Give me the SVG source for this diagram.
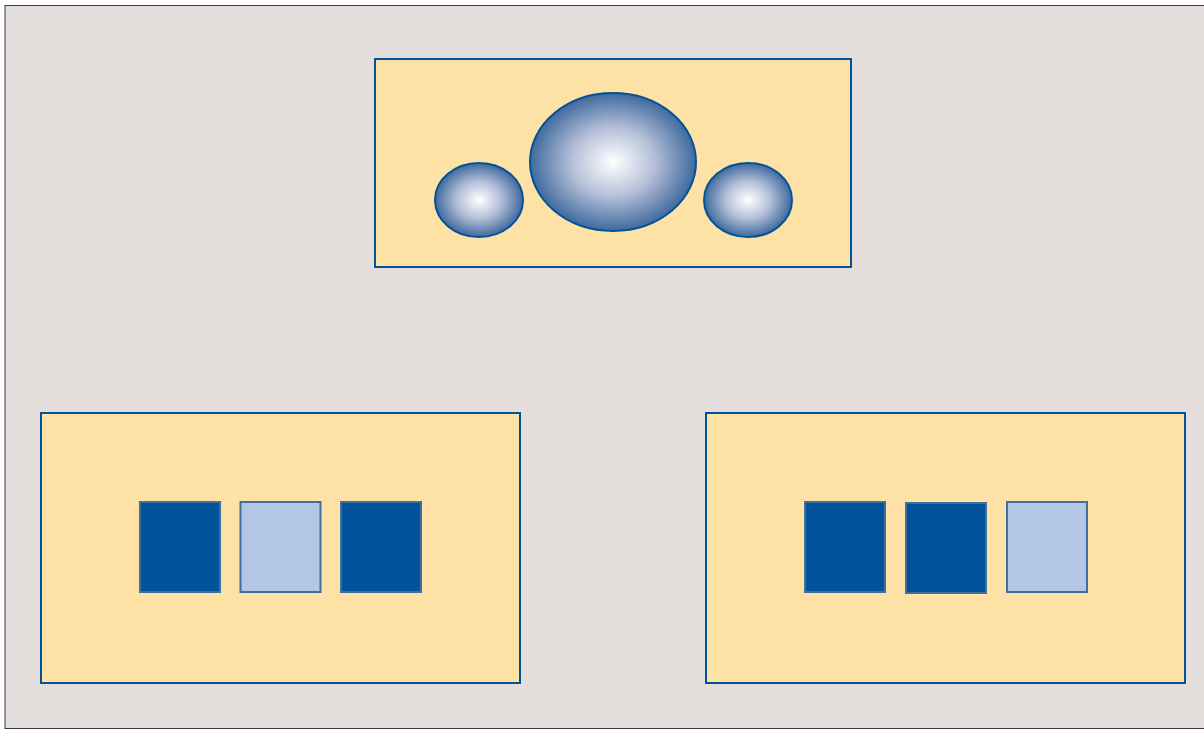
<svg xmlns="http://www.w3.org/2000/svg" width="1204" height="730" viewBox="0 0 1204 730">
  <style>
    .panel { fill: #fee2a5; stroke: #00539b; stroke-width: 2; }
    .ball { fill: url(#shine); stroke: #00539b; stroke-width: 2; }
    .dark { fill: #00529b; stroke: #3d6f9f; stroke-width: 2; }
    .light { fill: #b3c6e6; stroke: #3d6f9f; stroke-width: 2; }
  </style>
  <defs>
    <radialGradient id="shine" cx="0.5" cy="0.5" r="0.5">
      <stop offset="0" stop-color="#ffffff"/>
      <stop offset="0.5" stop-color="#b4bfd8"/>
      <stop offset="1" stop-color="#3f6a9e"/>
    </radialGradient>
  </defs>
  <!-- canvas -->
  <rect x="0" y="0" width="1204" height="730" fill="#ffffff"/>
  <rect x="5" y="5.5" width="1204" height="723" fill="#e3dedb" stroke="#3a3a3a" stroke-width="1"/>

  <!-- top panel with three spheres -->
  <g id="top-panel">
    <rect class="panel" x="375" y="59" width="476" height="208"/>
    <ellipse class="ball" cx="479" cy="200" rx="44" ry="37"/>
    <ellipse class="ball" cx="613" cy="162" rx="83" ry="69"/>
    <ellipse class="ball" cx="748" cy="200" rx="44" ry="37"/>
  </g>

  <!-- lower left panel -->
  <g id="left-panel">
    <rect class="panel" x="41" y="413" width="479" height="270"/>
    <rect class="dark" x="140" y="502" width="80" height="90"/>
    <rect class="light" x="240.5" y="502" width="80" height="90"/>
    <rect class="dark" x="341" y="502" width="80" height="90"/>
  </g>

  <!-- lower right panel -->
  <g id="right-panel">
    <rect class="panel" x="706" y="413" width="479" height="270"/>
    <rect class="dark" x="805" y="502" width="80" height="90"/>
    <rect class="dark" x="906" y="503" width="80" height="90"/>
    <rect class="light" x="1007" y="502" width="80" height="90"/>
  </g>

  <g id="connectors"/>
</svg>
